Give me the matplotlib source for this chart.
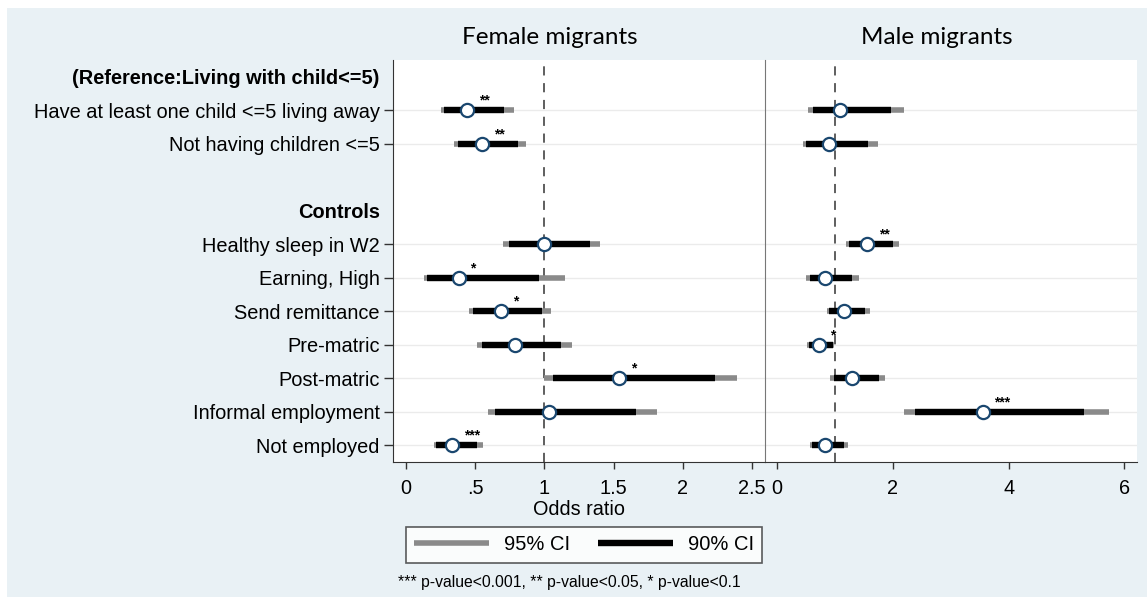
import matplotlib
matplotlib.use("Agg")
import matplotlib.pyplot as plt
from matplotlib.patches import Rectangle
from matplotlib.lines import Line2D

# rader fra topp til bunn (overskrifter har ingen estimater)
row_labels = ["(Reference:Living with child<=5)",
              "Have at least one child <=5 living away",
              "Not having children <=5",
              "",
              "Controls",
              "Healthy sleep in W2",
              "Earning, High",
              "Send remittance",
              "Pre-matric",
              "Post-matric",
              "Informal employment",
              "Not employed"]
header_rows = [0, 4]
coef_rows = [1, 2, 5, 6, 7, 8, 9, 10, 11]

# kvinner
female_or = [0.44, 0.55, 1.00, 0.38, 0.685, 0.785, 1.54, 1.03, 0.335]
female_lo95 = [0.25, 0.35, 0.70, 0.13, 0.455, 0.515, 1.00, 0.59, 0.205]
female_hi95 = [0.78, 0.87, 1.405, 1.15, 1.045, 1.20, 2.39, 1.81, 0.555]
female_lo90 = [0.275, 0.375, 0.745, 0.155, 0.485, 0.55, 1.065, 0.64, 0.22]
female_hi90 = [0.71, 0.81, 1.33, 0.96, 0.98, 1.12, 2.23, 1.66, 0.515]
female_stars = ["**", "**", "", "*", "*", "", "*", "", "***"]

# menn
male_or = [1.08, 0.89, 1.56, 0.835, 1.16, 0.715, 1.30, 3.55, 0.83]
male_lo95 = [0.54, 0.455, 1.19, 0.50, 0.86, 0.515, 0.92, 2.20, 0.57]
male_hi95 = [2.20, 1.75, 2.10, 1.42, 1.60, 0.99, 1.86, 5.74, 1.23]
male_lo90 = [0.62, 0.50, 1.235, 0.56, 0.90, 0.555, 0.975, 2.375, 0.61]
male_hi90 = [1.97, 1.57, 2.00, 1.30, 1.515, 0.965, 1.76, 5.31, 1.15]
male_stars = ["", "", "**", "", "", "*", "", "***", ""]

female_ticks = [0, 0.5, 1, 1.5, 2, 2.5]
female_ticklabels = ["0", ".5", "1", "1.5", "2", "2.5"]
male_ticks = [0, 2, 4, 6]
male_ticklabels = ["0", "2", "4", "6"]

plt.rcParams['font.family'] = ['Liberation Sans', 'DejaVu Sans']

bg = '#e9f1f5'
navy = '#1a476f'
grey = '#8a8a8a'

fig = plt.figure(figsize=(11.47, 5.97), dpi=100, facecolor='white')
fig.patches.append(Rectangle((7 / 1147, 0), 1 - 7 / 1147, 1 - 8 / 597,
                             transform=fig.transFigure, facecolor=bg,
                             edgecolor='none', zorder=-10))

ax1 = fig.add_axes([393 / 1147, 1 - 462 / 597, 372 / 1147, 402 / 597])
ax2 = fig.add_axes([765 / 1147, 1 - 462 / 597, 372 / 1147, 402 / 597])


def draw_panel(ax, est, lo95, hi95, lo90, hi90, stars):
    for r in coef_rows:
        ax.axhline(r, color='#ebebeb', lw=1, zorder=0)
    ax.axvline(1, color='#333333', lw=1.1, dashes=(6, 5), zorder=1)
    ax.hlines(coef_rows, lo95, hi95, color=grey, lw=4.0, zorder=2,
              capstyle='butt')
    ax.hlines(coef_rows, lo90, hi90, color='black', lw=4.6, zorder=3,
              capstyle='butt')
    ax.plot(est, coef_rows, 'o', ms=9.5, mfc='white', mec=navy, mew=1.6,
            zorder=4, ls='none')
    for x, r, s in zip(est, coef_rows, stars):
        if s:
            ax.annotate(s, (x, r), xytext=(8.5, 7), textcoords='offset points',
                        ha='left', va='center', fontsize=10,
                        fontweight='bold', zorder=5)
    ax.set_ylim(11.5, -0.5)
    ax.spines['top'].set_visible(False)
    ax.spines['right'].set_visible(False)
    ax.spines['bottom'].set_color('#333333')
    ax.tick_params(axis='x', direction='out', length=5, width=1,
                   color='#333333', labelsize=14.3, pad=7)


draw_panel(ax1, female_or, female_lo95, female_hi95, female_lo90, female_hi90,
           female_stars)
draw_panel(ax2, male_or, male_lo95, male_hi95, male_lo90, male_hi90,
           male_stars)

ax1.set_xlim(-0.094, 2.594)
ax1.set_xticks(female_ticks)
ax1.set_xticklabels(female_ticklabels)
ax1.spines['left'].set_color('#333333')
ax1.set_yticks(range(len(row_labels)))
ax1.set_yticklabels(row_labels, fontsize=14.4)
ax1.tick_params(axis='y', direction='out', length=6.5, width=1,
                color='#333333', pad=3)
for i, t in enumerate(ax1.yaxis.get_major_ticks()):
    if i in header_rows or row_labels[i] == "":
        t.tick1line.set_visible(False)
for i in header_rows:
    ax1.get_yticklabels()[i].set_fontweight('bold')
ax1.set_xlabel("Odds ratio", fontsize=14.3, labelpad=2)

ax2.set_xlim(-0.21, 6.22)
ax2.set_xticks(male_ticks)
ax2.set_xticklabels(male_ticklabels)
ax2.spines['left'].set_color('#777777')
ax2.set_yticks([])

# panel-titler
fig.text(550 / 1147, 1 - 37 / 597, "Female migrants", fontsize=17.5,
         family=['Lato', 'DejaVu Sans'], ha='center', va='center')
fig.text(937 / 1147, 1 - 37 / 597, "Male migrants", fontsize=17.5,
         family=['Lato', 'DejaVu Sans'], ha='center', va='center')

# forklaring
handles = [Line2D([], [], color=grey, lw=4.0, solid_capstyle='butt'),
           Line2D([], [], color='black', lw=4.6, solid_capstyle='butt')]
leg = fig.legend(handles, ["95% CI", "90% CI"], ncol=2, loc='center',
                 bbox_to_anchor=(584 / 1147, 1 - 545 / 597), fontsize=14.5,
                 frameon=True, fancybox=False, edgecolor='#333333',
                 handlelength=3.7, handletextpad=0.75, columnspacing=1.4,
                 borderpad=0.4)
leg.get_frame().set_linewidth(1.2)

fig.text(398 / 1147, 1 - 582 / 597,
         "*** p-value<0.001, ** p-value<0.05, * p-value<0.1",
         fontsize=11.3, ha='left', va='center')

plt.savefig("out.png", dpi=100, facecolor=fig.get_facecolor())
